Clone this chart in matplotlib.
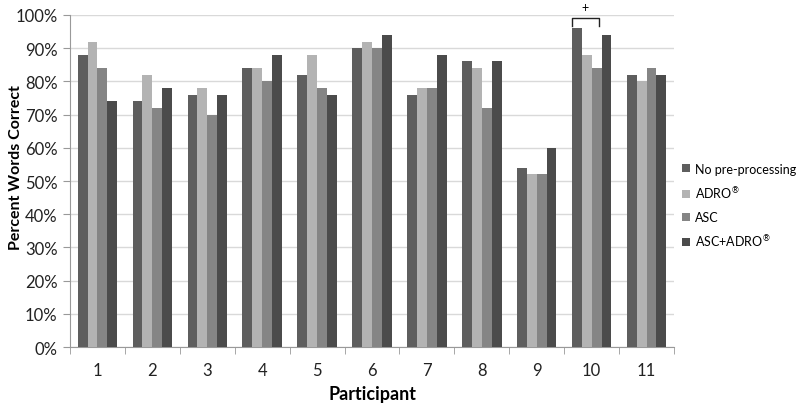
import numpy as np
import matplotlib.pyplot as plt
from matplotlib.ticker import PercentFormatter

plt.rcParams['font.family'] = ['Lato', 'DejaVu Sans']

participants = ['1', '2', '3', '4', '5', '6', '7', '8', '9', '10', '11']
no_pre = [88, 74, 76, 84, 82, 90, 76, 86, 54, 96, 82]
adro = [92, 82, 78, 84, 88, 92, 78, 84, 52, 88, 80]
asc = [84, 72, 70, 80, 78, 90, 78, 72, 52, 84, 84]
asc_adro = [74, 78, 76, 88, 76, 94, 88, 86, 60, 94, 82]

series = [
    ('No pre-processing', no_pre, '#5e5e5e'),
    ('ADRO$^{®}$', adro, '#b3b3b3'),
    ('ASC', asc, '#858585'),
    ('ASC+ADRO$^{®}$', asc_adro, '#4b4b4b'),
]

fig = plt.figure(figsize=(8, 4.1), dpi=100)
ax = fig.add_axes([0.0875, 0.151, 0.755, 0.81])

x = np.arange(len(participants))
w = 0.18
for i, (name, vals, col) in enumerate(series):
    ax.bar(x + (i - 1.5) * w, vals, w, color=col, label=name, zorder=3)

ax.set_xlim(-0.5, len(participants) - 0.5)
ax.set_ylim(0, 100)
ax.set_yticks(np.arange(0, 101, 10))
ax.yaxis.set_major_formatter(PercentFormatter(decimals=0))
ax.grid(axis='y', color='#d9d9d9', linewidth=1, zorder=0)

ax.set_xticks(x)
ax.set_xticklabels(participants)
ax.set_xticks(np.arange(-0.5, len(participants), 1), minor=True)
ax.tick_params(axis='x', which='major', length=0, pad=11, labelsize=12, colors='#222222')
ax.tick_params(axis='x', which='minor', length=5, color='#999999')
ax.tick_params(axis='y', length=5, color='#999999', labelsize=12, labelcolor='#222222', pad=4)

for s in ['top', 'right']:
    ax.spines[s].set_visible(False)
for s in ['left', 'bottom']:
    ax.spines[s].set_color('#999999')

ax.set_xlabel('Participant', fontsize=13, fontweight='bold', labelpad=5)
fig.text(16 / 800, 1 - 168 / 410, 'Percent Words Correct', rotation=90,
         ha='center', va='center', fontsize=11.5, fontweight='bold')

# significance bracket over participant 10
bx0, bx1 = 9 - 2 * w, 9 + 0.75 * w
ax.plot([bx0, bx0, bx1, bx1], [96.8, 99.2, 99.2, 96.8], color='#222222', lw=1, clip_on=False, zorder=4)
ax.text((bx0 + bx1) / 2, 100.5, '+', ha='center', va='bottom', fontsize=9, clip_on=False)

leg = ax.legend(loc='center left', bbox_to_anchor=(0.995, 0.425), frameon=False, fontsize=9,
                handlelength=0.6, handleheight=0.6, handletextpad=0.4, labelspacing=0.8)

fig.savefig('out.png', dpi=100)
